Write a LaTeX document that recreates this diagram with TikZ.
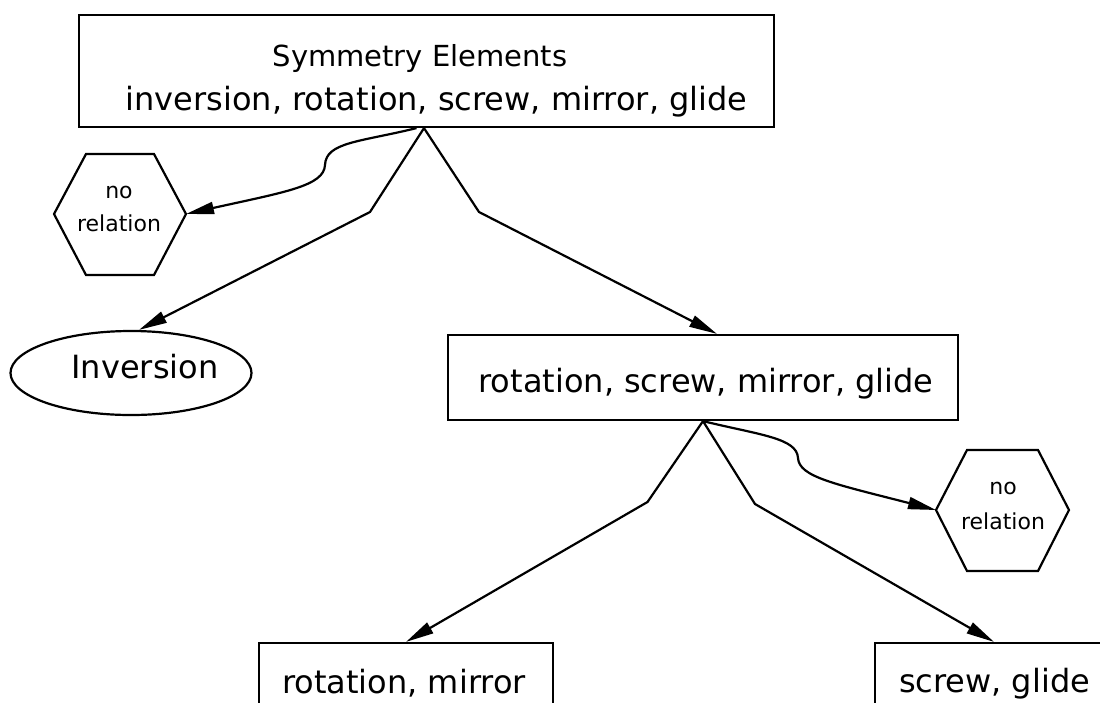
\documentclass[tikz,border=0pt]{standalone}
\usepackage{fontspec}
\setmainfont{DejaVu Sans}
\usetikzlibrary{arrows.meta,shapes.geometric}
\begin{document}
\begin{tikzpicture}[x=1pt,y=-1pt,
  line width=2.2pt,
  conn/.style={line width=2.2pt, -{Triangle[length=28pt,width=12pt]}},
  box/.style={draw, line width=2.2pt, rectangle, inner sep=0pt},
  oval/.style={draw, line width=2.2pt, ellipse, inner sep=0pt},
  hexa/.style={draw, line width=2.2pt, line join=miter},
  lbl/.style={anchor=base, inner sep=0pt, font=\fontsize{32}{38}\selectfont},
  ttl/.style={anchor=base, inner sep=0pt, font=\fontsize{29}{35}\selectfont},
  small/.style={anchor=base, inner sep=0pt, font=\fontsize{22}{26}\selectfont}]

\useasboundingbox (0,0) rectangle (1100,702);
\clip (0,0) rectangle (1100,702);

% boxes and ellipse
\node[box, minimum width=695pt, minimum height=112pt] (top) at (426.5,71) {};
\node[box, minimum width=510pt, minimum height=85pt] (mid) at (703,377.5) {};
\node[oval, minimum width=241pt, minimum height=84pt] (inv) at (131,373) {};
\node[box, minimum width=294pt, minimum height=117pt] (rm) at (406,701.5) {};
\node[box, minimum width=238pt, minimum height=117pt] (sg) at (994,701.5) {};

% hexagons
\coordinate (hlw) at (54,214);
\coordinate (hle) at (186,214);
\draw[hexa] (hlw) -- (86,154) -- (154,154) -- (hle) -- (154,275) -- (86,275) -- cycle;
\coordinate (hrw) at (936,510);
\coordinate (hre) at (1069,510);
\draw[hexa] (hrw) -- (967,450) -- (1038,450) -- (hre) -- (1038,571) -- (967,571) -- cycle;

% texts
\node[ttl] (t1) at (420,66.5) {Symmetry Elements};
\node[lbl] (t2) at (436.5,110.5) {inversion, rotation, screw, mirror, glide};
\node[lbl] (t3) at (145,378) {Inversion};
\node[lbl] (t4) at (706,392) {rotation, screw, mirror, glide};
\node[lbl] (t5) at (404,693) {rotation, mirror};
\node[lbl] (t6) at (994.5,692) {screw, glide};
\node[small] (n1) at (119,198) {no};
\node[small] (r1) at (119,231.5) {relation};
\node[small] (n2) at (1003,494) {no};
\node[small] (r2) at (1003,529) {relation};

% bend points of the connectors
\coordinate (b1) at (370,212);
\coordinate (b2) at (479,212);
\coordinate (b3) at (647.5,502);
\coordinate (b4) at (755,504);

% connectors
\draw[conn] ([xshift=-10pt]top.south) .. controls (360,142) and (326,142) .. (325,165)
  .. controls (324,186) and (285,192) .. (hle);
\draw[conn] ([xshift=-2.5pt]top.south) -- (b1) -- ([xshift=8pt]inv.north);
\draw[conn] ([xshift=-2.5pt]top.south) -- (b2) -- ([xshift=14pt]mid.north);
\draw[conn] (mid.south) .. controls (760,435) and (797,438) .. (798,458)
  .. controls (799,477) and (835,484) .. (hrw);
\draw[conn] (mid.south) -- (b3) -- (rm.north);
\draw[conn] (mid.south) -- (b4) -- (sg.north);
\end{tikzpicture}
\end{document}
